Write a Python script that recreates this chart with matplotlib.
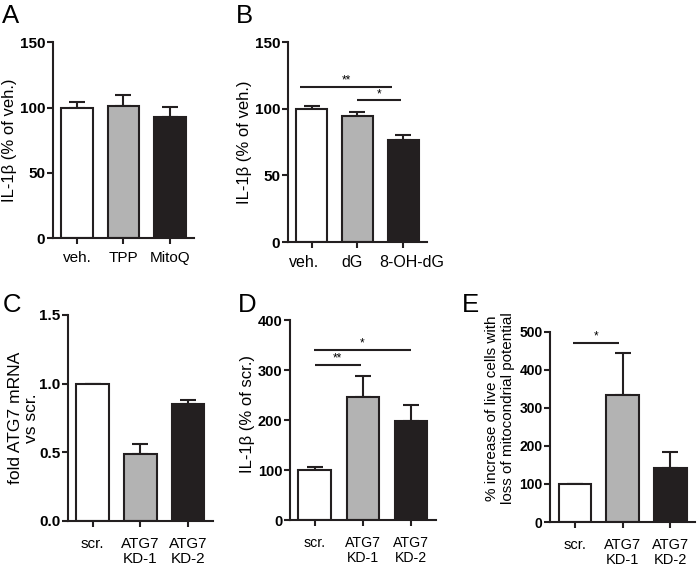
import matplotlib
matplotlib.use("Agg")
import matplotlib.pyplot as plt
import matplotlib.transforms as mtransforms
import numpy as np

plt.rcParams['font.family'] = ['Liberation Sans', 'DejaVu Sans']

# ----- data -----
a_labels = ["veh.", "TPP", "MitoQ"]
a_values = [100, 101.5, 92.5]
a_errors = [4, 8, 8]

b_labels = ["veh.", "dG", "8-OH-dG"]
b_values = [100, 95, 77]
b_errors = [2.5, 3, 3.5]

c_labels = ["scr.", "ATG7\nKD-1", "ATG7\nKD-2"]
c_values = [1.0, 0.49, 0.85]
c_errors = [0, 0.07, 0.03]

d_labels = ["scr.", "ATG7\nKD-1", "ATG7\nKD-2"]
d_values = [100, 247, 199]
d_errors = [6, 41, 31]

e_labels = ["scr.", "ATG7\nKD-1", "ATG7\nKD-2"]
e_values = [101, 335, 142]
e_errors = [0, 109, 42]

BAR_COLORS = ["white", "#b3b3b3", "#231f20"]
EDGE = "#231f20"


def bar_panel(ax, labels, values, errors, ylim, yticks, ylabel, yfmt="{:g}",
              ylabel_size=12, ylabel_spacing=1.2, ylabel_pad=2,
              tick_size=11, xlab_size=11, xpad=5):
    x = np.arange(len(values))
    ax.bar(x, values, width=0.68, color=BAR_COLORS, edgecolor=EDGE,
           linewidth=1.5, zorder=2)
    ax.errorbar(x, values, yerr=[np.zeros(len(errors)), errors], fmt='none',
                ecolor=EDGE, elinewidth=1.5, capsize=6, capthick=1.5, zorder=1)
    ax.set_xlim(-0.52, 2.52)
    ax.set_ylim(*ylim)
    ax.set_yticks(yticks)
    ax.set_yticklabels([yfmt.format(t) for t in yticks], fontweight='bold',
                       fontsize=tick_size)
    ax.set_xticks(x)
    ax.set_xticklabels(labels, fontsize=xlab_size, linespacing=1.1)
    ax.set_ylabel(ylabel, fontsize=ylabel_size, linespacing=ylabel_spacing,
                  labelpad=ylabel_pad)
    for s in ['top', 'right']:
        ax.spines[s].set_visible(False)
    for s in ['left', 'bottom']:
        ax.spines[s].set_linewidth(1.5)
        ax.spines[s].set_color(EDGE)
    ax.tick_params(axis='both', direction='out', width=1.5, length=4.5,
                   color=EDGE)
    ax.tick_params(axis='y', pad=1)
    ax.tick_params(axis='x', pad=xpad)


def sig_line(ax, x0, x1, y, text):
    ax.plot([x0, x1], [y, y], color=EDGE, linewidth=1.5, solid_capstyle='butt')
    ax.text((x0 + x1) / 2, y, text, ha='center', va='bottom', fontsize=8.5)


fig = plt.figure(figsize=(7, 5.71), dpi=100)

axA = fig.add_axes([0.0757, 0.583, 0.2014, 0.343])
bar_panel(axA, a_labels, a_values, a_errors, (0, 150), [0, 50, 100, 150],
          "IL-1β (% of veh.)")

axB = fig.add_axes([0.411, 0.576, 0.199, 0.350])
bar_panel(axB, b_labels, b_values, b_errors, (0, 150), [0, 50, 100, 150],
          "IL-1β (% of veh.)", xlab_size=11.5)
sig_line(axB, -0.25, 1.75, 116.5, "**")
sig_line(axB, 1.0, 1.95, 106.5, "*")
# labels in B sit a little off their ticks in the original
for lab, dx in zip(axB.get_xticklabels(), [-7, -5, 9]):
    lab.set_transform(lab.get_transform() +
                      mtransforms.ScaledTranslation(dx / 100, 0, fig.dpi_scale_trans))

axC = fig.add_axes([0.097, 0.0876, 0.207, 0.361])
bar_panel(axC, c_labels, c_values, c_errors, (0, 1.5), [0, 0.5, 1.0, 1.5],
          "fold ATG7 mRNA\nvs scr.", yfmt="{:.1f}", ylabel_size=12.6,
          ylabel_spacing=1.05, ylabel_pad=0, xlab_size=11, xpad=7)

axD = fig.add_axes([0.414, 0.0893, 0.209, 0.350])
bar_panel(axD, d_labels, d_values, d_errors, (0, 400), [0, 100, 200, 300, 400],
          "IL-1β (% of scr.)", tick_size=10.5, xlab_size=10.2, xpad=7)
axD.yaxis.label.set_y(0.53)
sig_line(axD, 0.0, 0.95, 311, "**")
sig_line(axD, -0.02, 2.0, 341, "*")

axE = fig.add_axes([0.786, 0.0858, 0.207, 0.333])
bar_panel(axE, e_labels, e_values, e_errors, (0, 500),
          [0, 100, 200, 300, 400, 500],
          "% increase of live cells with\nloss of mitocondrial potential",
          ylabel_size=11, ylabel_spacing=1.2, ylabel_pad=3,
          tick_size=10, xlab_size=10.5, xpad=7)
axE.yaxis.label.set_y(0.6)
sig_line(axE, -0.05, 0.93, 471, "*")

for letter, (px, py) in {"A": (2, 4), "B": (236, 4), "C": (3, 293),
                         "D": (238, 293), "E": (462, 293)}.items():
    fig.text(px / 700, 1 - py / 571, letter, fontsize=18.5, ha='left', va='top')

fig.savefig("out.png", dpi=100)
